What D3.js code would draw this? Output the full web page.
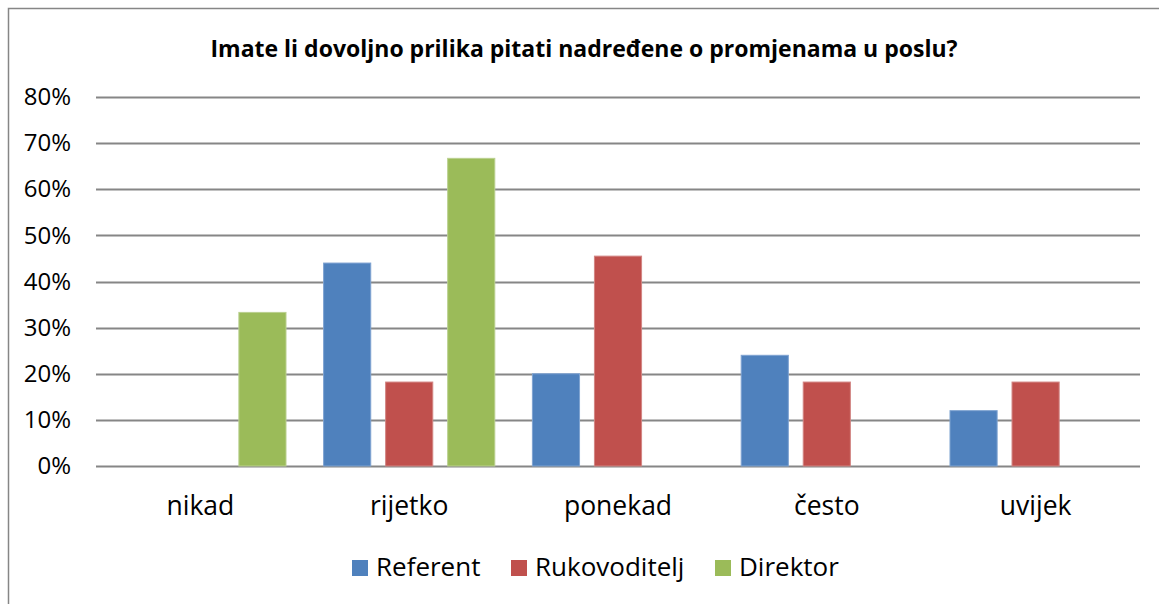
<!DOCTYPE html>
<html>
<head>
<meta charset="utf-8">
<script src="https://cdn.jsdelivr.net/npm/d3@7"></script>
<style>
  body { margin: 0; background: #fff; }
  svg { display: block; }
  text { font-family: "Open Sans", "Noto Sans", sans-serif; fill: #000; }
</style>
</head>
<body>
<svg id="chart" width="1159" height="604"></svg>
<script>
// chart data
const categories = ['nikad', 'rijetko', 'ponekad', 'često', 'uvijek'];
const seriesNames = ['Referent', 'Rukovoditelj', 'Direktor'];
const referent = [0, 0.44, 0.20, 0.24, 0.12];
const rukovoditelj = [0, 0.182, 0.455, 0.182, 0.182];
const direktor = [0.333, 0.667, 0, 0, 0];
const yTicks = [0, 0.1, 0.2, 0.3, 0.4, 0.5, 0.6, 0.7, 0.8];
const colors = ['#4F81BD', '#C0504D', '#9BBB59'];
const strokes = ['#7FA3D1', '#D28583', '#BAD08F'];

const title = 'Imate li dovoljno prilika pitati nadređene o promjenama u poslu?';

const seriesValues = [referent, rukovoditelj, direktor];
const rows = categories.map((cat, i) => ({
    cat,
    values: seriesNames.map((name, s) => ({ name, s, value: seriesValues[s][i] }))
}));

const svg = d3.select('#chart');
const plot = { left: 96, right: 1140, top: 97, bottom: 466 };

// outer frame (only left/top edges visible in the crop)
svg.append('path')
    .attr('d', 'M8.5,604 V8.5 H1159')
    .attr('fill', 'none')
    .attr('stroke', '#868686')
    .attr('stroke-width', 1.5);

const x0 = d3.scaleBand()
    .domain(categories)
    .range([plot.left, plot.right])
    .paddingInner(0.18)
    .paddingOuter(0.09);

const x1 = d3.scaleBand()
    .domain(seriesNames)
    .range([0, x0.bandwidth()])
    .paddingInner(0.24);

const y = d3.scaleLinear()
    .domain([0, 0.8])
    .range([plot.bottom, plot.top]);

// gridlines
svg.append('g')
    .selectAll('line')
    .data(yTicks)
    .join('line')
    .attr('x1', plot.left)
    .attr('x2', plot.right)
    .attr('y1', d => Math.round(y(d)) + 0.5)
    .attr('y2', d => Math.round(y(d)) + 0.5)
    .attr('stroke', '#868686')
    .attr('stroke-width', 2);

// y axis labels
const yAxis = d3.axisLeft(y)
    .tickValues(yTicks)
    .tickFormat(d3.format('.0%'))
    .tickSize(0)
    .tickPadding(25);

svg.append('g')
    .attr('transform', `translate(${plot.left},0)`)
    .call(yAxis)
    .call(g => g.select('.domain').remove())
    .call(g => g.selectAll('text')
        .attr('font-size', 24)
        .attr('font-family', '"Open Sans", sans-serif')
        .attr('fill', '#000'));

// bars
const groups = svg.append('g')
    .selectAll('g')
    .data(rows)
    .join('g')
    .attr('transform', d => `translate(${x0(d.cat)},0)`);

groups.selectAll('rect')
    .data(d => d.values.filter(v => v.value > 0))
    .join('rect')
    .attr('x', d => x1(d.name))
    .attr('y', d => y(d.value))
    .attr('width', x1.bandwidth())
    .attr('height', d => y(0) - y(d.value))
    .attr('fill', d => colors[d.s])
    .attr('stroke', d => strokes[d.s])
    .attr('stroke-width', 1);

// x axis labels
const xAxis = d3.axisBottom(x0).tickSize(0).tickPadding(30);
svg.append('g')
    .attr('transform', `translate(0,${plot.bottom})`)
    .call(xAxis)
    .call(g => g.select('.domain').remove())
    .call(g => g.selectAll('text')
        .attr('font-size', 26.5)
        .attr('font-family', '"Open Sans", sans-serif')
        .attr('fill', '#000'));

// title
svg.append('text')
    .attr('x', 584)
    .attr('y', 57)
    .attr('text-anchor', 'middle')
    .attr('font-size', 23)
    .attr('font-weight', 'bold')
    .text(title);

// legend
const legendPos = [352, 511, 715];
const legend = svg.append('g')
    .selectAll('g')
    .data(seriesNames)
    .join('g')
    .attr('transform', (d, i) => `translate(${legendPos[i]},560)`);

legend.append('rect')
    .attr('width', 16)
    .attr('height', 16)
    .attr('fill', (d, i) => colors[i]);

legend.append('text')
    .attr('x', 24)
    .attr('y', 16)
    .attr('font-size', 26)
    .text(d => d);
</script>
</body>
</html>
